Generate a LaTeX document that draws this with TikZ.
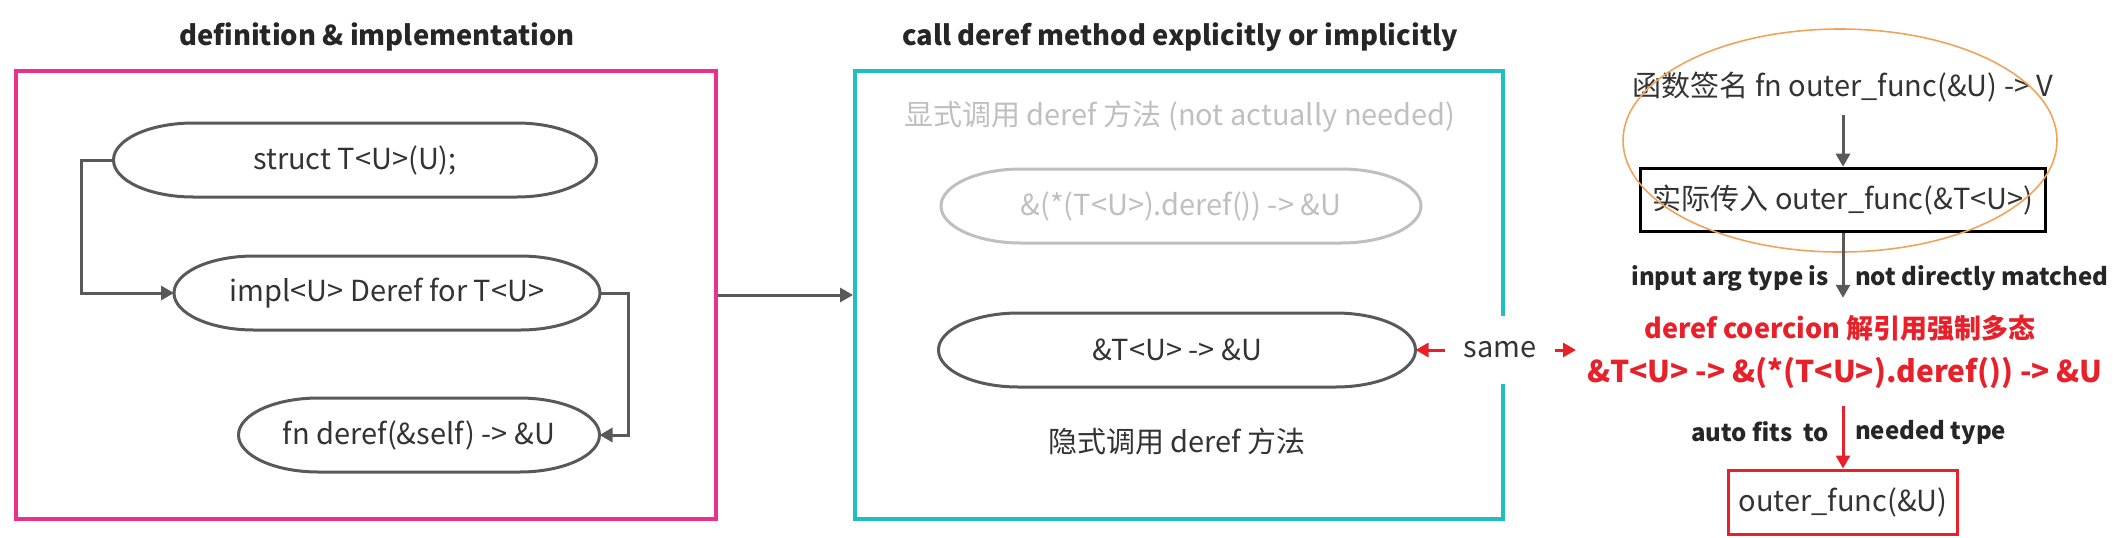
\documentclass[tikz,border=0pt]{standalone}
\usepackage{fontspec}
\setmainfont{Noto Sans CJK SC}
\usetikzlibrary{positioning,shapes.geometric,arrows.meta}
\definecolor{framepink}{HTML}{E8318D}
\definecolor{framecyan}{HTML}{1DBFC0}
\definecolor{linegray}{HTML}{595959}
\definecolor{textdark}{HTML}{333333}
\definecolor{fadegray}{HTML}{BFBFBF}
\definecolor{hotred}{HTML}{E8202A}
\definecolor{ovalorange}{HTML}{F2A35A}
\tikzset{
  arrow/.style={-{Triangle[width=7pt,length=6.5pt]}, line width=1.5pt, draw=linegray},
  redarrow/.style={-{Triangle[width=7pt,length=6.5pt]}, line width=1.5pt, draw=hotred},
  frame/.style={draw, line width=2pt, minimum width=350pt, minimum height=224pt},
  capsule/.style={minimum height=37pt, outer sep=0pt, inner sep=0pt, text=textdark,
    append after command={\pgfextra{\draw[line width=1.5pt, #1]
      ([xshift=40pt]\tikzlastnode.north west) -- ([xshift=-40pt]\tikzlastnode.north east)
      arc[start angle=90, end angle=-90, x radius=40pt, y radius=18.5pt]
      -- ([xshift=40pt]\tikzlastnode.south west)
      arc[start angle=270, end angle=90, x radius=40pt, y radius=18.5pt] -- cycle;}}},
  capsule/.default=linegray
}

\begin{document}
\begin{tikzpicture}[x=0.5pt, y=-0.5pt, font=\fontsize{14.5pt}{17pt}\selectfont, text=textdark]
  \tikzset{
    heading/.style={font=\fontsize{13.7pt}{16pt}\selectfont\bfseries, text=black!85},
    tag/.style={font=\fontsize{12pt}{14pt}\selectfont\bfseries, text=black!85},
    redtext/.style={font=\fontsize{13.5pt}{16pt}\selectfont\bfseries, text=hotred}
  }
  \useasboundingbox (0,0) rectangle (2127,537);

  \node[heading] (defhead) at (377,37) {definition \& implementation};
  \node[heading] (callhead) at (1180,37) {call deref method explicitly or implicitly};

  \node[frame, draw=framepink] (defbox) at (366,295) {};
  \node[frame, draw=framecyan, minimum width=324pt] (callbox) at (1179,295) {};

  \node[capsule, minimum width=241.5pt] (e1) at (355,160) {struct T<U>(U);};
  \node[capsule, minimum width=213pt] (e2) at (387,293) {impl<U> Deref for T<U>};
  \node[capsule, minimum width=180.5pt] (e3) at (419,435) {fn deref(\&self) -> \&U};

  \draw[arrow] (e1.west) -- ++(-16pt,0) |- (e2.west);
  \draw[arrow] (e2.east) -- ++(14pt,0) |- (e3.east);
  \draw[arrow] (defbox.east) -- (callbox.west);

  \node[text=fadegray] (explabel) at (1180,117) {显式调用 deref 方法 (not actually needed)};
  \node[capsule=fadegray, text=fadegray, minimum width=240pt] (explicit) at (1181,206) {\&(*(T<U>).deref()) -> \&U};
  \node[capsule, minimum width=238.5pt] (implicit) at (1177,350) {\&T<U> -> \&U};
  \node (implabel) at (1177,441) {隐式调用 deref 方法};

  \node[fill=white, inner xsep=9pt, minimum height=34pt] (same) at (1500,350) {same};
  \coordinate (sameend) at (1576,350);
  \draw[redarrow] (same.west) -- (implicit.east);
  \draw[redarrow] (same.east) -- (sameend);

  \node (sig) at (1843,87) {函数签名 fn outer\_func(\&U) -> V};
  \node[draw=black, line width=1.8pt, minimum width=202.5pt, minimum height=31.5pt] (argbox) at (1843,200) {实际传入 outer\_func(\&T<U>)};
  \node[draw=ovalorange, ellipse, line width=0.8pt, minimum width=217pt, minimum height=111.5pt] (sigoval) at (1840,140.5) {};
  \draw[arrow, shorten <=3pt] (sig.south) -- (argbox.north);

  \node[redtext] (coercion) at (1840,328) {deref coercion 解引用强制多态};
  \node[redtext, font=\fontsize{15pt}{17pt}\selectfont\bfseries] (formula) at (1845,373) {\&T<U> -> \&(*(T<U>).deref()) -> \&U};
  \draw[arrow, shorten >=5pt] (argbox.south) -- (argbox.south |- coercion.north)
    node[pos=0.6, left=3pt, tag] {input arg type is}
    node[pos=0.6, right=2pt, tag] {not directly matched};

  \node[draw=hotred, line width=1.5pt, minimum width=114.5pt, minimum height=32pt] (outbox) at (1843,502) {outer\_func(\&U)};
  \draw[redarrow, shorten <=5pt] (outbox.north |- formula.south) -- (outbox.north)
    node[midway, left=3pt, tag] {auto fits \ to}
    node[midway, right=2pt, tag] {needed type};
\end{tikzpicture}
\end{document}
